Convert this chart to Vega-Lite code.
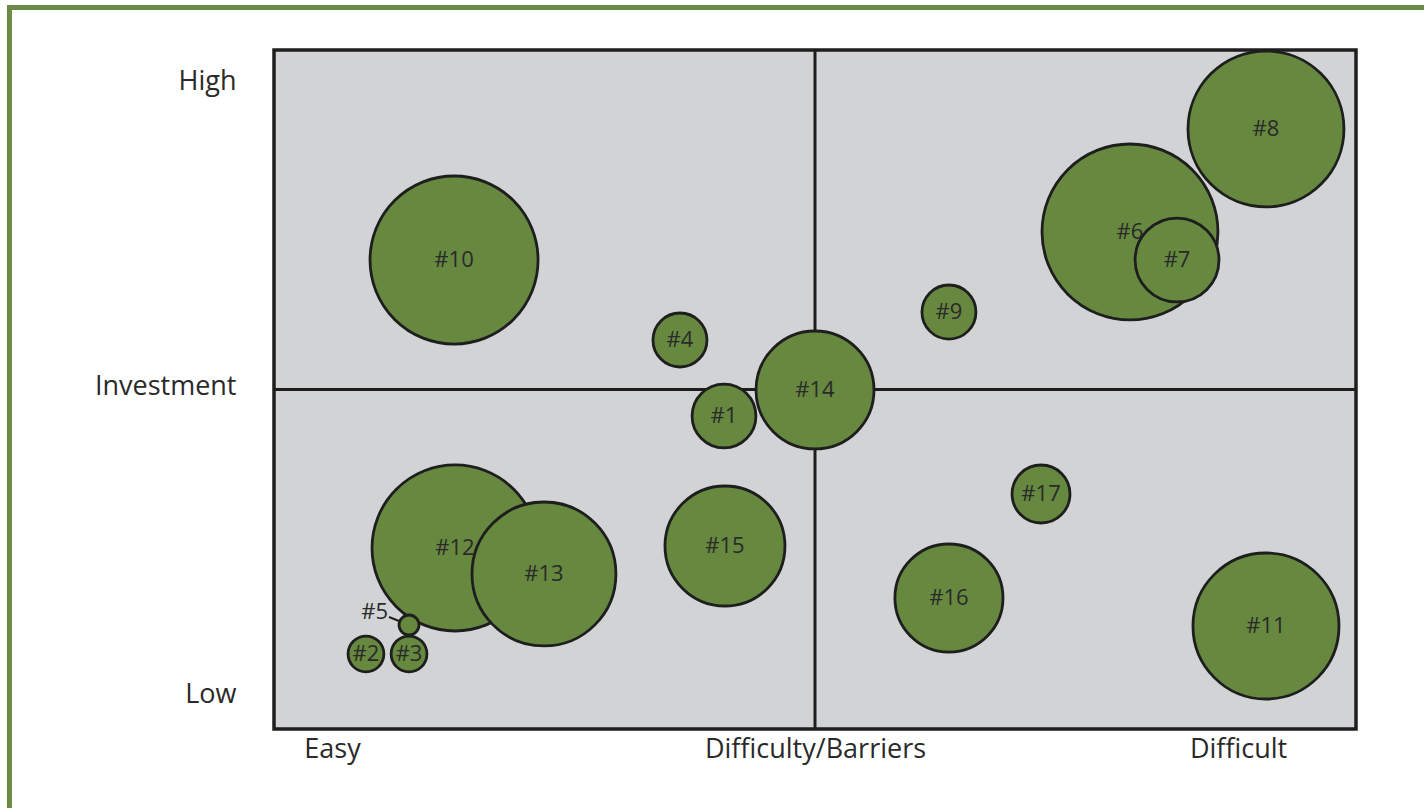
{
  "$schema": "https://vega.github.io/schema/vega-lite/v6.json",
  "width": 1082,
  "height": 679,
  "autosize": {"type": "none"},
  "padding": {"left": 274, "top": 50, "right": 68, "bottom": 79},
  "background": "white",
  "config": {
    "view": {"fill": "#d2d3d5", "stroke": "#1e1e1e", "strokeWidth": 3.5},
    "font": "Open Sans"
  },
  "datasets": {
    "bubbles": [
      {"id": "#10", "ease": 16.64, "invest": 69.07, "weight": 706},
      {"id": "#4", "ease": 37.52, "invest": 57.29, "weight": 73},
      {"id": "#1", "ease": 41.59, "invest": 46.1, "weight": 102},
      {"id": "#14", "ease": 50.0, "invest": 49.93, "weight": 348},
      {"id": "#9", "ease": 62.38, "invest": 61.41, "weight": 73},
      {"id": "#6", "ease": 79.11, "invest": 73.2, "weight": 774},
      {"id": "#7", "ease": 83.46, "invest": 69.07, "weight": 176},
      {"id": "#8", "ease": 91.68, "invest": 88.37, "weight": 608},
      {"id": "#12", "ease": 16.73, "invest": 26.66, "weight": 689},
      {"id": "#13", "ease": 24.95, "invest": 22.83, "weight": 518},
      {"id": "#15", "ease": 41.68, "invest": 26.95, "weight": 360},
      {"id": "#16", "ease": 62.38, "invest": 19.29, "weight": 292},
      {"id": "#17", "ease": 70.89, "invest": 34.61, "weight": 84},
      {"id": "#11", "ease": 91.68, "invest": 15.17, "weight": 533},
      {"id": "#2", "ease": 8.5, "invest": 11.05, "weight": 32},
      {"id": "#3", "ease": 12.48, "invest": 11.05, "weight": 32},
      {"id": "#5", "ease": 12.48, "invest": 15.32, "weight": 10, "calloutEase": 10.63, "calloutInvest": 16.49}
    ],
    "single": [{}]
  },
  "layer": [
    {
      "data": {"name": "single"},
      "mark": {"type": "rect", "fill": "transparent", "stroke": "#6b8a45", "strokeWidth": 5, "clip": false},
      "encoding": {
        "x": {"datum": -24.45, "type": "quantitative", "scale": {"domain": [0, 100], "nice": false, "zero": false}, "axis": {"values": [5.36, 50, 89.1], "labelExpr": "datum.value < 20 ? 'Easy' : datum.value > 80 ? 'Difficult' : 'Difficulty/Barriers'", "ticks": false, "domain": false, "grid": false, "title": null, "labelFontSize": 27, "labelColor": "#2a2a2a", "labelPadding": 7, "labelLimit": 0, "labelFont": "Open Sans"}},
        "x2": {"datum": 108},
        "y": {"datum": 106.26, "type": "quantitative", "scale": {"domain": [0, 100], "nice": false, "zero": false}, "axis": {"values": [5.15, 50.4, 95.4], "labelExpr": "datum.value < 20 ? 'Low' : datum.value > 80 ? 'High' : 'Investment'", "ticks": false, "domain": false, "grid": false, "title": null, "labelFontSize": 27, "labelColor": "#2a2a2a", "labelPadding": 38, "labelLimit": 0, "labelFont": "Open Sans", "labelBaseline": "middle"}},
        "y2": {"datum": -15}
      }
    },
    {
      "data": {"name": "single"},
      "mark": {"type": "rule", "color": "#1e1e1e", "strokeWidth": 3},
      "encoding": {"x": {"datum": 50, "type": "quantitative"}}
    },
    {
      "data": {"name": "single"},
      "mark": {"type": "rule", "color": "#1e1e1e", "strokeWidth": 3},
      "encoding": {"y": {"datum": 50, "type": "quantitative"}}
    },
    {
      "data": {"name": "bubbles"},
      "transform": [{"filter": "datum.calloutEase != null"}],
      "mark": {"type": "rule", "color": "#1e1e1e", "strokeWidth": 2},
      "encoding": {
        "x": {"field": "calloutEase", "type": "quantitative"},
        "y": {"field": "calloutInvest", "type": "quantitative"},
        "x2": {"field": "ease"},
        "y2": {"field": "invest"}
      }
    },
    {
      "data": {"name": "bubbles"},
      "mark": {"type": "point", "shape": "circle", "filled": true, "fill": "#66883f", "fillOpacity": 1, "stroke": "#1e1e1e", "strokeWidth": 2.8, "opacity": 1},
      "encoding": {
        "x": {"field": "ease", "type": "quantitative"},
        "y": {"field": "invest", "type": "quantitative"},
        "size": {"field": "weight", "type": "quantitative", "scale": {"type": "linear", "domain": [0, 1000], "range": [0, 40000]}, "legend": null}
      }
    },
    {
      "data": {"name": "bubbles"},
      "transform": [{"filter": "datum.calloutEase == null"}],
      "mark": {"type": "text", "fontSize": 22, "color": "#2a2a2a", "align": "center", "baseline": "middle", "font": "Open Sans"},
      "encoding": {
        "x": {"field": "ease", "type": "quantitative"},
        "y": {"field": "invest", "type": "quantitative"},
        "text": {"field": "id"}
      }
    },
    {
      "data": {"name": "bubbles"},
      "transform": [{"filter": "datum.calloutEase != null"}],
      "mark": {"type": "text", "fontSize": 22, "color": "#2a2a2a", "align": "right", "baseline": "middle", "dx": -1, "dy": -5, "font": "Open Sans"},
      "encoding": {
        "x": {"field": "calloutEase", "type": "quantitative"},
        "y": {"field": "calloutInvest", "type": "quantitative"},
        "text": {"field": "id"}
      }
    }
  ]
}
